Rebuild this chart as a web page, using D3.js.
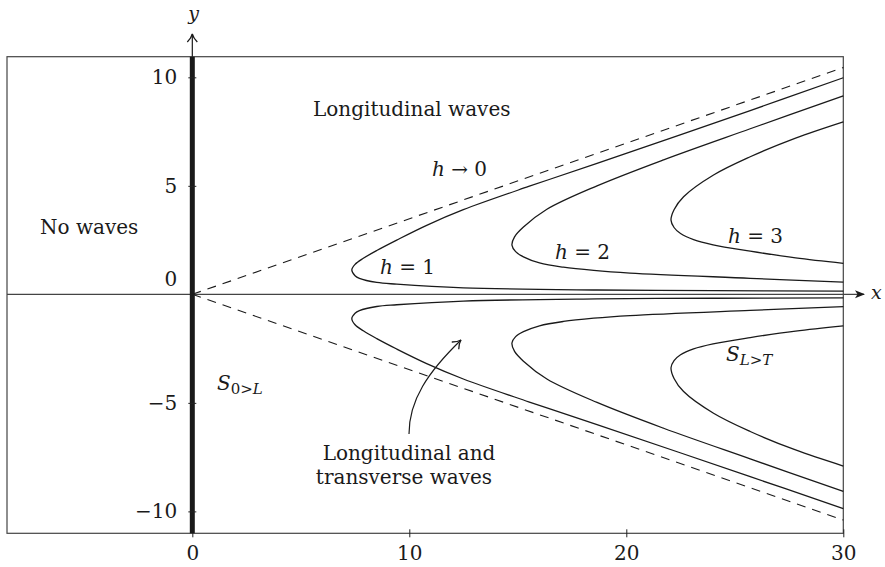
<!DOCTYPE html>
<html>
<head>
<meta charset="utf-8">
<script src="https://cdn.jsdelivr.net/npm/d3@7"></script>
<style>
  body { margin: 0; background: #fff; }
  svg text { font-family: "DejaVu Serif", serif; fill: #1a1a1a; }
</style>
</head>
<body>
<svg id="chart" width="885" height="567"></svg>
<script>
// tick values
const xTicks = [0, 10, 20, 30];
const yTicks = [-10, -5, 0, 5, 10];

// asymptotes h -> 0
const dashUpper = [[0, 0], [30, 10.45]];
const dashLower = [[0, 0], [30, -10.4]];

// h = 1, 2, 3 curves (upper half)
const h1Upper = [[30, 9.98], [25.71, 8.47], [18.65, 6.03], [15.5, 4.97], [12.49, 3.9], [10.8, 3.18], [9.42, 2.5],
  [8.5, 2.02], [7.88, 1.66], [7.5, 1.38], [7.35, 1.12], [7.5, 0.86], [7.7, 0.74], [8.5, 0.55], [9.42, 0.47],
  [12.49, 0.3], [18.65, 0.2], [24, 0.17], [30, 0.15]];
const h2Upper = [[30, 9.15], [25.71, 7.63], [21.72, 6.2], [18.65, 5.0], [16.34, 3.92], [15.26, 3.1], [14.85, 2.65],
  [14.73, 2.27], [14.9, 1.97], [15.26, 1.73], [16, 1.45], [17.1, 1.25], [18.5, 1.1], [20.17, 0.98],
  [25.71, 0.74], [30, 0.56]];
const h3Upper = [[30, 7.95], [27.8, 7.2], [25.71, 6.34], [24.02, 5.5], [22.64, 4.5], [22.2, 3.9],
  [22.06, 3.42], [22.2, 3.08], [22.5, 2.8], [23.1, 2.52], [24, 2.28], [25.71, 1.99], [27.8, 1.68], [30, 1.43]];

// lower half
const h1Lower = [[30, -9.87], [25.71, -8.4], [18.65, -6.0], [15.5, -4.95], [12.49, -3.9], [10.8, -3.19], [9.42, -2.52],
  [8.5, -2.04], [7.88, -1.68], [7.5, -1.4], [7.35, -1.12], [7.5, -0.87], [7.7, -0.75], [8.5, -0.56], [9.42, -0.48],
  [12.49, -0.31], [18.65, -0.21], [24, -0.18], [30, -0.16]];
const h2Lower = [[30, -9.08], [25.71, -7.58], [21.72, -6.17], [18.65, -4.98], [16.34, -3.9], [15.26, -3.08], [14.85, -2.63],
  [14.73, -2.24], [14.9, -1.95], [15.26, -1.72], [16, -1.45], [17.1, -1.25], [18.5, -1.1], [20.17, -0.98],
  [25.71, -0.74], [30, -0.57]];
const h3Lower = [[30, -7.91], [27.8, -7.17], [25.71, -6.32], [24.02, -5.48], [22.64, -4.48], [22.2, -3.88],
  [22.06, -3.38], [22.2, -3.05], [22.5, -2.78], [23.1, -2.51], [24, -2.28], [25.71, -1.99], [27.8, -1.69], [30, -1.45]];

const curves = [h1Upper, h2Upper, h3Upper, h1Lower, h2Lower, h3Lower];

const svg = d3.select("#chart");

const x = d3.scaleLinear().domain([-8.54, 30]).range([7, 843.3]);
const y = d3.scaleLinear().domain([-11.01, 10.95]).range([533.3, 56.7]);

const defs = svg.append("defs");
defs.append("marker")
  .attr("id", "headX")
  .attr("viewBox", "-1 -5 12 10")
  .attr("refX", 9).attr("refY", 0)
  .attr("markerWidth", 12).attr("markerHeight", 10)
  .attr("markerUnits", "userSpaceOnUse")
  .attr("orient", "auto")
  .append("path")
  .attr("d", "M0,-4 L10,0 L0,4 L2.5,0 Z")
  .attr("fill", "#1a1a1a");
defs.append("marker")
  .attr("id", "headOpen")
  .attr("viewBox", "-1 -6 12 12")
  .attr("refX", 9).attr("refY", 0)
  .attr("markerWidth", 12).attr("markerHeight", 12)
  .attr("markerUnits", "userSpaceOnUse")
  .attr("orient", "auto")
  .append("path")
  .attr("d", "M1,-5 Q5,-1 9,0 Q5,1 1,5")
  .attr("fill", "none")
  .attr("stroke", "#1a1a1a")
  .attr("stroke-width", 1.3);

// frame
svg.append("rect")
  .attr("x", x(-8.54)).attr("y", y(10.95))
  .attr("width", x(30) - x(-8.54))
  .attr("height", y(-11.01) - y(10.95))
  .attr("fill", "none")
  .attr("stroke", "#444")
  .attr("stroke-width", 1.2);

// x axis line with arrow
svg.append("line")
  .attr("x1", x(-8.54)).attr("x2", 864)
  .attr("y1", y(0)).attr("y2", y(0))
  .attr("stroke", "#444")
  .attr("stroke-width", 1.2)
  .attr("marker-end", "url(#headX)");
svg.append("text")
  .attr("x", 871).attr("y", y(0) + 5)
  .style("font-style", "italic")
  .style("font-size", "19px")
  .text("x");

// bottom ticks
const bottom = svg.append("g")
  .attr("transform", "translate(0," + y(-11.01) + ")")
  .call(d3.axisBottom(x).tickValues(xTicks).tickSize(0).tickPadding(0).tickFormat(d3.format("d")));
bottom.select(".domain").remove();
bottom.selectAll(".tick line").attr("y1", -4).attr("y2", 4).attr("stroke", "#222");
bottom.selectAll(".tick text")
  .attr("y", 27).attr("dy", null)
  .style("font-family", "DejaVu Serif, serif")
  .style("font-size", "20px")
  .attr("fill", "#1a1a1a");

// thick y line
svg.append("line")
  .attr("x1", x(0)).attr("x2", x(0))
  .attr("y1", y(-11.01)).attr("y2", y(10.95))
  .attr("stroke", "#1a1a1a")
  .attr("stroke-width", 5);
svg.append("line")
  .attr("x1", x(0)).attr("x2", x(0))
  .attr("y1", y(10.95)).attr("y2", 34)
  .attr("stroke", "#1a1a1a")
  .attr("stroke-width", 1.2)
  .attr("marker-end", "url(#headOpen)");
svg.append("text")
  .attr("x", x(0) - 4).attr("y", 20)
  .style("font-style", "italic")
  .style("font-size", "19px")
  .text("y");

// y ticks
const left = svg.append("g")
  .attr("transform", "translate(" + x(0) + ",0)")
  .call(d3.axisLeft(y).tickValues(yTicks).tickSize(0).tickPadding(15)
    .tickFormat(d => d < 0 ? "\u2212" + Math.abs(d) : d));
left.select(".domain").remove();
left.selectAll(".tick line").attr("x1", -4).attr("x2", 4).attr("stroke", "#222")
  .attr("display", d => d === 0 ? "none" : null);
left.selectAll(".tick text")
  .style("font-family", "DejaVu Serif, serif")
  .style("font-size", "20px")
  .attr("fill", "#1a1a1a")
  .attr("dy", d => d === 0 ? "-0.45em" : "0.32em");

// dashed asymptotes
const line = d3.line().x(d => x(d[0])).y(d => y(d[1]));
svg.selectAll("path.dash")
  .data([dashUpper, dashLower])
  .enter().append("path")
  .attr("class", "dash")
  .attr("d", line)
  .attr("fill", "none")
  .attr("stroke", "#1a1a1a")
  .attr("stroke-width", 1.1)
  .attr("stroke-dasharray", "9,7");

// h curves
const smooth = d3.line().x(d => x(d[0])).y(d => y(d[1])).curve(d3.curveCatmullRom.alpha(0.5));
svg.selectAll("path.hcurve")
  .data(curves)
  .enter().append("path")
  .attr("class", "hcurve")
  .attr("d", smooth)
  .attr("fill", "none")
  .attr("stroke", "#1a1a1a")
  .attr("stroke-width", 1.3);

// labels
function label(px, py, parts) {
  const t = svg.append("text").attr("x", px).attr("y", py).style("font-size", "20px");
  parts.forEach(p => {
    const s = t.append("tspan").text(p.t);
    if (p.i) s.style("font-style", "italic");
    if (p.sub) s.attr("baseline-shift", "-25%").style("font-size", "15px");
  });
  return t;
}

label(313, 116, [{t: "Longitudinal waves"}]);
label(40, 234, [{t: "No waves"}]);
label(432, 176, [{t: "h", i: true}, {t: " \u2192 0"}]);
label(380, 274, [{t: "h", i: true}, {t: " = 1"}]);
label(555, 259, [{t: "h", i: true}, {t: " = 2"}]);
label(728, 243, [{t: "h", i: true}, {t: " = 3"}]);
label(217, 390, [{t: "S", i: true}, {t: "0>", sub: true}, {t: "L", i: true, sub: true}]);
label(726, 361, [{t: "S", i: true}, {t: "L>T", i: true, sub: true}]);

svg.append("text").attr("x", 409).attr("y", 460).attr("text-anchor", "middle")
  .style("font-size", "20px").text("Longitudinal and");
svg.append("text").attr("x", 404).attr("y", 484).attr("text-anchor", "middle")
  .style("font-size", "20px").text("transverse waves");

// annotation arrow
svg.append("path")
  .attr("d", "M409,434 C409,400 428,372 461,340")
  .attr("fill", "none")
  .attr("stroke", "#1a1a1a")
  .attr("stroke-width", 1.2)
  .attr("marker-end", "url(#headOpen)");
</script>
</body>
</html>
